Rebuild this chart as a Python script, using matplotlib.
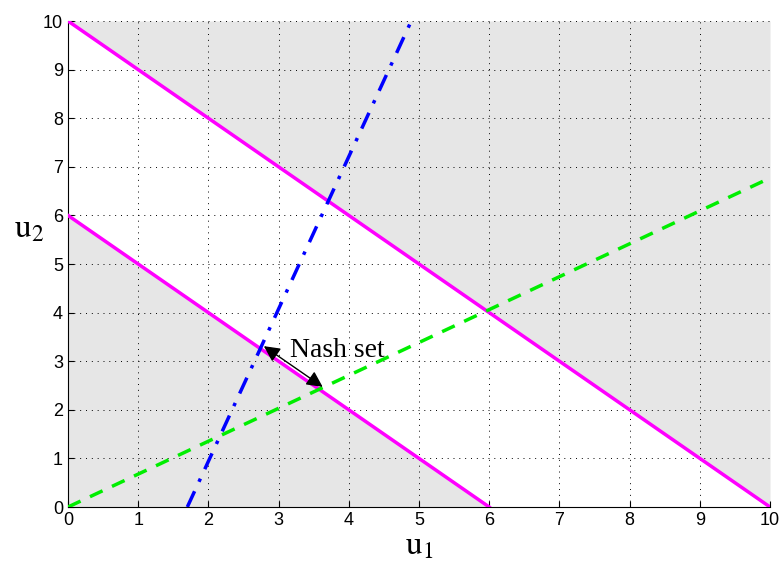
import matplotlib.pyplot as plt
import numpy as np

# budget lines u1 + u2 = c
budget_low = 6
budget_high = 10

# reaction curves, given by their end points
blue_x = [1.7, 4.89]
blue_y = [0, 10]
green_x = [0, 10]
green_y = [0, 6.77]

ticks = np.arange(0, 11)

plt.rcParams['mathtext.fontset'] = 'stix'

fig = plt.figure(figsize=(7.84, 5.74), dpi=100)
ax = fig.add_axes([0.0867, 0.1167, 0.8955, 0.8467])

u = np.linspace(0, 10, 200)
gray = '#e6e6e6'
ax.fill_between(u, 0, np.clip(budget_low - u, 0, None), color=gray, lw=0, zorder=0)
ax.fill_between(u, np.clip(budget_high - u, 0, 10), 10, color=gray, lw=0, zorder=0)

ax.plot([0, budget_low], [budget_low, 0], color='magenta', lw=2.5, zorder=3)
ax.plot([0, budget_high], [budget_high, 0], color='magenta', lw=2.5, zorder=3)
ax.plot(blue_x, blue_y, color='blue', lw=2.5, ls='-.', dashes=(5, 3, 1, 3), zorder=3)
ax.plot(green_x, green_y, color='#00ee00', lw=2.5, ls='--', dashes=(4, 3), zorder=3)

# end points of the Nash set on the lower budget line
kb = (blue_y[1] - blue_y[0]) / (blue_x[1] - blue_x[0])
x_b = (budget_low + kb * blue_x[0]) / (1 + kb)
kg = green_y[1] / green_x[1]
x_g = budget_low / (1 + kg)
off = 0.05
p1 = (x_b + off, budget_low - x_b + off)
p2 = (x_g + off, budget_low - x_g + off)

ax.annotate('', xy=p1, xytext=p2,
            arrowprops=dict(arrowstyle='<|-|>', color='black', lw=1.0,
                            mutation_scale=24, shrinkA=0, shrinkB=0),
            zorder=5)
ax.text(3.16, 3.22, 'Nash set', family='Liberation Serif', fontsize=20,
        va='center', ha='left', zorder=5)

ax.set_xlim(0, 10)
ax.set_ylim(0, 10)
ax.set_xticks(ticks)
ax.set_yticks(ticks)
ax.grid(True, color='black', ls=(0, (1, 5)), lw=0.7)
ax.set_axisbelow(False)
for s in ['top', 'right']:
    ax.spines[s].set_visible(False)
ax.tick_params(direction='in', length=4, labelsize=13)
for lbl in ax.get_xticklabels() + ax.get_yticklabels():
    lbl.set_family('Liberation Sans')

ax.set_xlabel(r'$\mathrm{u}_1$', fontsize=24, labelpad=0)
ax.set_ylabel(r'$\mathrm{u}_2$', fontsize=24, rotation=0, labelpad=14)
ax.yaxis.set_label_coords(-0.055, 0.54)

fig.savefig('out.png', dpi=100)
